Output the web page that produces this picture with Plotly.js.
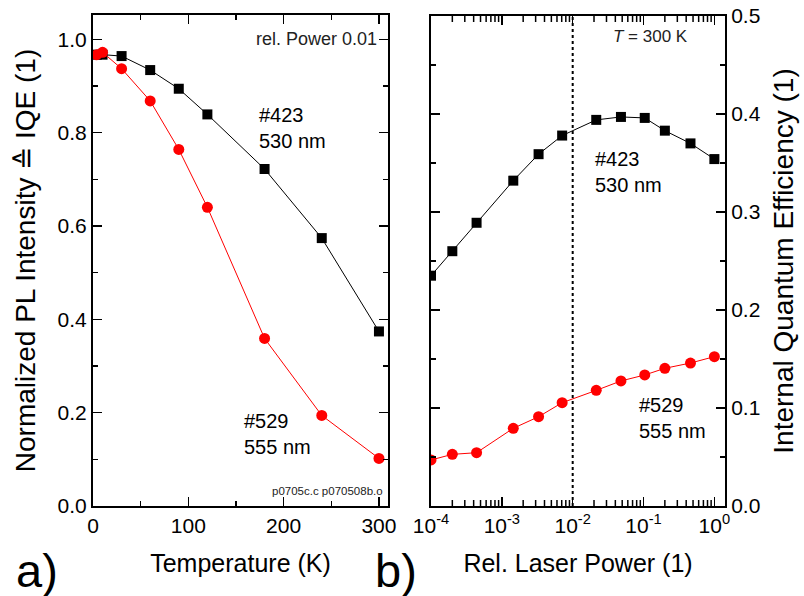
<!DOCTYPE html>
<html>
<head>
<meta charset="utf-8">
<script src="https://cdn.plot.ly/plotly-3.0.1.min.js"></script>
<style>html,body{margin:0;padding:0;background:#fff}#chart{width:804px;height:596px}</style>
</head>
<body>
<div id="chart"></div>
<script>
// Panel a) temperature dependence
const temperature423 = [4, 10, 30, 60, 90, 120, 180, 240, 300];
const iqe423T = [0.967, 0.967, 0.964, 0.934, 0.894, 0.839, 0.722, 0.574, 0.374];
const temperature529 = [4, 10, 30, 60, 90, 120, 180, 240, 300];
const iqe529T = [0.967, 0.972, 0.937, 0.868, 0.764, 0.640, 0.359, 0.194, 0.102];

// Panel b) laser power dependence at 300 K
const power423 = [1e-4, 2e-4, 4.4e-4, 1.45e-3, 3.3e-3, 7.1e-3, 2.15e-2, 4.8e-2, 0.104, 0.20, 0.46, 1.0];
const iqe423P = [0.235, 0.260, 0.289, 0.332, 0.359, 0.378, 0.394, 0.397, 0.396, 0.383, 0.370, 0.354];
const power529 = [1e-4, 2e-4, 4.4e-4, 1.45e-3, 3.3e-3, 7.1e-3, 2.15e-2, 4.8e-2, 0.104, 0.20, 0.46, 1.0];
const iqe529P = [0.047, 0.0527, 0.0544, 0.0793, 0.0911, 0.1054, 0.118, 0.1276, 0.1337, 0.1405, 0.1459, 0.1524];

// Log-axis tick labels
const powerTickVals = [1e-4, 1e-3, 1e-2, 1e-1, 1];
const powerTickText = ['10<sup>-4</sup>', '10<sup>-3</sup>', '10<sup>-2</sup>', '10<sup>-1</sup>', '10<sup>0</sup>'];

const referencePower = 0.01;

const xTitleA = 'Temperature (K)';
const xTitleB = 'Rel. Laser Power (1)';
const yTitleA = 'Normalized PL Intensity \u2259 IQE (1)';
const yTitleB = 'Internal Quantum Efficiency (1)';

// minor tick positions 2..9 in every decade (log axis)
const minorPowerTicks = [];
for (let d = -4; d <= 0; d++) {
  for (let m = 2; m <= 9; m++) {
    const v = m * Math.pow(10, d);
    if (Math.log10(v) <= 0.15) minorPowerTicks.push(v);
  }
}

const sans = 'Liberation Sans, Arial, sans-serif';

const traces = [
  {x: temperature423, y: iqe423T, xaxis:'x', yaxis:'y', mode:'lines+markers', type:'scatter',
   line:{color:'#000', width:1}, marker:{symbol:'square', size:10, color:'#000'}},
  {x: temperature529, y: iqe529T, xaxis:'x', yaxis:'y', mode:'lines+markers', type:'scatter',
   line:{color:'#ff0000', width:1}, marker:{symbol:'circle', size:11, color:'#ff0000'}},
  {x: power423, y: iqe423P, xaxis:'x2', yaxis:'y2', mode:'lines+markers', type:'scatter',
   line:{color:'#000', width:1}, marker:{symbol:'square', size:10, color:'#000'}},
  {x: power529, y: iqe529P, xaxis:'x2', yaxis:'y2', mode:'lines+markers', type:'scatter',
   line:{color:'#ff0000', width:1}, marker:{symbol:'circle', size:11, color:'#ff0000'}}
];

const axisCommon = {
  showline:true, linecolor:'#000', linewidth:2, mirror:'ticks', ticks:'inside',
  tickcolor:'#000', tickwidth:1.5, ticklen:9, showgrid:false, zeroline:false,
  tickfont:{family:sans, size:21, color:'#000'}
};
const minorCommon = {ticks:'inside', ticklen:5, tickcolor:'#000', tickwidth:1.5, showgrid:false};

// minor log ticks drawn as short shapes at bottom and top of panel b
const minorTickShapes = [];
minorPowerTicks.forEach(v => {
  minorTickShapes.push({type:'line', xref:'x2', yref:'y2 domain', ysizemode:'pixel', yanchor:0,
    x0:v, x1:v, y0:0, y1:6, line:{color:'#000', width:1.5}});
  minorTickShapes.push({type:'line', xref:'x2', yref:'y2 domain', ysizemode:'pixel', yanchor:1,
    x0:v, x1:v, y0:0, y1:-6, line:{color:'#000', width:1.5}});
});

const layout = {
  width:804, height:596,
  margin:{l:0, r:0, t:0, b:0},
  paper_bgcolor:'#fff', plot_bgcolor:'#fff',
  showlegend:false,
  xaxis: Object.assign({}, axisCommon, {
    domain:[93/804, 388/804], anchor:'y', range:[0, 309.5],
    tickmode:'linear', tick0:0, dtick:100,
    minor:Object.assign({dtick:50}, minorCommon),
    title:{text:xTitleA, font:{family:sans, size:25, color:'#000'}, standoff:18}
  }),
  yaxis: Object.assign({}, axisCommon, {
    domain:[90/596, 581/596], anchor:'x', range:[0, 1.052],
    tickmode:'linear', tick0:0, dtick:0.2, tickformat:'.1f',
    minor:Object.assign({dtick:0.1}, minorCommon),
    title:{text:yTitleA, font:{family:sans, size:28, color:'#000'}, standoff:14}
  }),
  xaxis2: Object.assign({}, axisCommon, {
    domain:[431/804, 725/804], anchor:'y2', type:'log', range:[-4, 0.15],
    tickmode:'array', tickvals:powerTickVals, ticktext:powerTickText,
    title:{text:xTitleB, font:{family:sans, size:25, color:'#000'}, standoff:18}
  }),
  yaxis2: Object.assign({}, axisCommon, {
    domain:[90/596, 580/596], anchor:'x2', side:'right', range:[0, 0.5],
    tickmode:'linear', tick0:0, dtick:0.1, tickformat:'.1f',
    minor:Object.assign({dtick:0.05}, minorCommon),
    title:{text:yTitleB, font:{family:sans, size:28, color:'#000'}, standoff:14}
  }),
  shapes:[
    {type:'line', xref:'x2', yref:'y2 domain', x0:referencePower, x1:referencePower, y0:0, y1:1,
     line:{color:'#000', width:2, dash:'dot'}}
  ].concat(minorTickShapes),
  annotations:[
    {xref:'x domain', yref:'y', x:0.97, y:1.0, xanchor:'right', yanchor:'middle', showarrow:false,
     text:'rel. Power 0.01', font:{family:sans, size:18, color:'#222'}},
    {xref:'x', yref:'y', x:172, y:0.81, xanchor:'left', yanchor:'middle', showarrow:false, align:'left',
     text:'#423<br>530 nm', font:{family:sans, size:20, color:'#000'}},
    {xref:'x', yref:'y', x:156, y:0.155, xanchor:'left', yanchor:'middle', showarrow:false, align:'left',
     text:'#529<br>555 nm', font:{family:sans, size:20, color:'#000'}},
    {xref:'x domain', yref:'y domain', x:0.99, y:0.015, xanchor:'right', yanchor:'bottom', showarrow:false,
     text:'p0705c.c p070508b.o', font:{family:sans, size:11.5, color:'#222'}},
    {xref:'x2 domain', yref:'y2 domain', x:0.88, y:0.958, xanchor:'right', yanchor:'middle', showarrow:false,
     text:'<i>T</i> = 300 K', font:{family:sans, size:17, color:'#222'}},
    {xref:'x2', yref:'y2', x:Math.log10(0.0195), y:0.341, xanchor:'left', yanchor:'middle', showarrow:false, align:'left',
     text:'#423<br>530 nm', font:{family:sans, size:20, color:'#000'}},
    {xref:'x2', yref:'y2', x:Math.log10(0.081), y:0.0898, xanchor:'left', yanchor:'middle', showarrow:false, align:'left',
     text:'#529<br>555 nm', font:{family:sans, size:20, color:'#000'}},
    {xref:'paper', yref:'paper', x:14/804, y:(596-570)/596, xanchor:'left', yanchor:'middle', showarrow:false,
     text:'a)', font:{family:sans, size:47, color:'#000'}},
    {xref:'paper', yref:'paper', x:373/804, y:(596-570)/596, xanchor:'left', yanchor:'middle', showarrow:false,
     text:'b)', font:{family:sans, size:47, color:'#000'}}
  ]
};

Plotly.newPlot('chart', traces, layout, {staticPlot:true, displayModeBar:false});
</script>
</body>
</html>
